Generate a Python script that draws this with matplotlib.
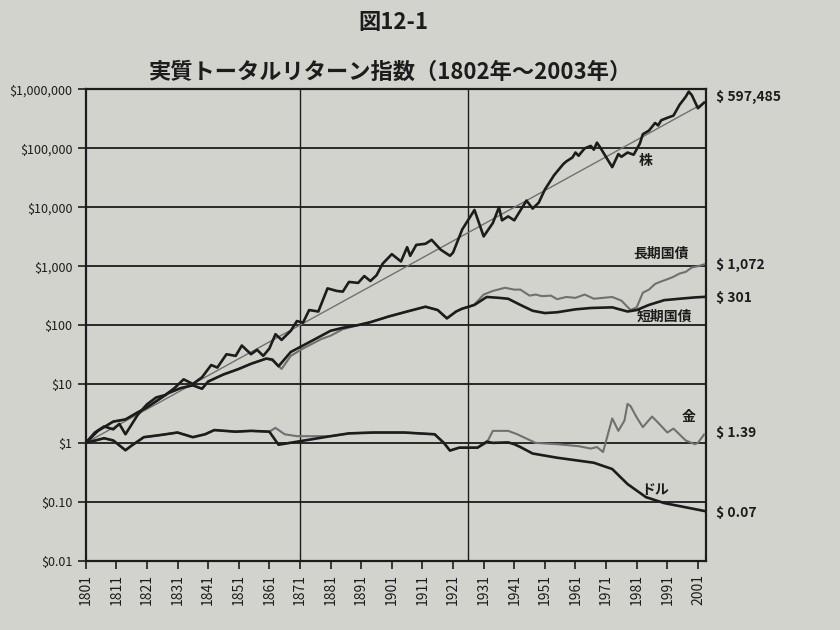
import numpy as np
import matplotlib
matplotlib.use("Agg")
import matplotlib.pyplot as plt

plt.rcParams['font.family'] = ['Noto Sans CJK JP', 'DejaVu Sans']

stock_years = [1801, 1804, 1807, 1810, 1812, 1814, 1818, 1821, 1824, 1827, 1830, 1833, 1836,
               1839, 1842, 1844, 1847, 1850, 1852, 1855, 1857, 1859, 1861, 1863, 1865, 1868,
               1870, 1872, 1874, 1877, 1880, 1883, 1885, 1887, 1890, 1892, 1894, 1896, 1898,
               1901, 1904, 1906, 1907, 1909, 1912, 1914, 1917, 1920, 1921, 1924, 1928, 1931,
               1934, 1936, 1937, 1939, 1941, 1945, 1947, 1949, 1951, 1954, 1957, 1958, 1960,
               1961, 1962, 1964, 1966, 1967, 1968, 1969, 1973, 1975, 1976, 1978, 1980, 1982,
               1983, 1985, 1987, 1988, 1989, 1991, 1993, 1995, 1997, 1998, 1999, 2001, 2003]
stock = [1, 1.5, 1.9, 1.7, 2.1, 1.4, 3.0, 4.5, 5.9, 6.5, 8.5, 12, 10,
         13, 21, 19, 32, 30, 45, 32, 38, 30, 40, 70, 56, 80,
         117, 110, 180, 170, 420, 380, 370, 540, 520, 680, 560, 700, 1100,
         1600, 1200, 2100, 1500, 2300, 2400, 2800, 1900, 1500, 1700, 4200, 9000, 3200,
         5400, 10000, 6000, 7000, 6000, 13000, 9500, 12000, 20000, 35000, 54000, 60000, 70000,
         85000, 75000, 100000, 110000, 95000, 125000, 105000, 48000, 80000, 72000, 85000, 78000, 120000,
         174000, 200000, 270000, 245000, 300000, 330000, 360000, 550000, 750000, 920000, 800000, 480000, 597485]

trend_years = [1801, 2003]
trend = [1, 590000]

bills_years = [1801, 1805, 1810, 1814, 1818, 1821, 1825, 1828, 1832, 1836, 1839, 1841, 1844,
               1846, 1851, 1855, 1860, 1862, 1864, 1868, 1872, 1878, 1881, 1885, 1890, 1894,
               1900, 1906, 1912, 1916, 1919, 1922, 1924, 1928, 1932, 1936, 1939, 1943, 1947,
               1951, 1955, 1961, 1966, 1973, 1978, 1981, 1985, 1990, 1995, 2000, 2003]
bills = [1, 1.6, 2.3, 2.5, 3.3, 4.0, 5.5, 7, 8.5, 9.5, 8.3, 11, 13,
         14.5, 18, 22, 27, 26, 20, 35, 45, 66, 80, 90, 100, 112,
         140, 170, 205, 180, 130, 170, 190, 220, 300, 290, 280, 220, 175,
         160, 165, 185, 195, 200, 170, 180, 220, 265, 280, 295, 301]

bonds_years = [1801, 1805, 1810, 1814, 1818, 1821, 1825, 1828, 1832, 1836, 1839, 1841, 1844,
               1846, 1851, 1855, 1860, 1862, 1865, 1868, 1872, 1878, 1881, 1885, 1890, 1894,
               1900, 1906, 1912, 1916, 1919, 1922, 1924, 1926, 1928, 1931, 1934, 1938, 1941,
               1943, 1946, 1948, 1950, 1953, 1955, 1958, 1961, 1964, 1967, 1970, 1973, 1976,
               1979, 1981, 1983, 1985, 1987, 1989, 1991, 1993, 1995, 1997, 1999, 2001, 2003]
bonds = [1, 1.6, 2.3, 2.5, 3.3, 4.0, 5.5, 7, 8.5, 9.5, 8.3, 11, 13,
         14.5, 18, 22, 27, 25, 18, 30, 40, 58, 66, 85, 100, 112,
         140, 170, 205, 180, 130, 170, 190, 200, 225, 330, 380, 430, 400,
         400, 316, 330, 310, 316, 275, 300, 290, 330, 280, 290, 300, 260,
         180, 200, 355, 400, 500, 550, 600, 660, 750, 800, 950, 1000, 1072]

gold_years = [1801, 1807, 1810, 1814, 1816, 1820, 1825, 1831, 1836, 1840, 1843, 1850, 1855,
              1861, 1863, 1866, 1870, 1875, 1881, 1887, 1895, 1905, 1915, 1918, 1920, 1923,
              1929, 1932, 1934, 1939, 1942, 1944, 1948, 1955, 1962, 1966, 1968, 1970, 1973,
              1975, 1977, 1978, 1979, 1981, 1983, 1986, 1988, 1991, 1993, 1997, 2000, 2001, 2003]
gold = [1, 1.2, 1.1, 0.75, 0.9, 1.25, 1.35, 1.5, 1.25, 1.4, 1.65, 1.55, 1.6,
        1.55, 1.8, 1.4, 1.3, 1.3, 1.3, 1.45, 1.5, 1.5, 1.4, 1.0, 0.74, 0.83,
        0.83, 1.0, 1.6, 1.6, 1.4, 1.25, 1.0, 0.95, 0.88, 0.8, 0.85, 0.7, 2.6,
        1.6, 2.4, 4.6, 4.2, 2.7, 1.85, 2.8, 2.2, 1.5, 1.75, 1.1, 0.95, 1.0, 1.39]

dollar_years = [1801, 1807, 1810, 1814, 1816, 1820, 1825, 1831, 1836, 1840, 1843, 1850, 1855,
                1861, 1864, 1881, 1887, 1895, 1905, 1915, 1918, 1920, 1923, 1929, 1932,
                1934, 1939, 1941, 1943, 1947, 1955, 1967, 1973, 1978, 1984, 1990, 2003]
dollar = [1, 1.2, 1.1, 0.75, 0.9, 1.25, 1.35, 1.5, 1.25, 1.4, 1.65, 1.55, 1.6,
          1.55, 0.93, 1.3, 1.45, 1.5, 1.5, 1.4, 1.0, 0.74, 0.83, 0.83, 1.05,
          1.0, 1.02, 0.95, 0.85, 0.66, 0.56, 0.46, 0.36, 0.2, 0.12, 0.095, 0.07]

ytick_vals = [0.01, 0.1, 1, 10, 100, 1000, 10000, 100000, 1000000]
ytick_labels = ['$0.01', '$0.10', '$1', '$10', '$100', '$1,000', '$10,000', '$100,000', '$1,000,000']
xtick_vals = list(range(1801, 2002, 10))

paper = '#d3d3ce'
grey = '#707070'
dark = '#1c1c1c'

fig = plt.figure(figsize=(8.4, 6.3), dpi=100, facecolor=paper)
ax = fig.add_axes([0.102, 0.11, 0.738, 0.748], facecolor=paper)

ax.set_yscale('log')
ax.set_ylim(0.01, 1000000)
ax.set_xlim(1801, 2003.5)

# grid
for v in ytick_vals:
    ax.axhline(v, color=dark, lw=1.3, zorder=1)
ax.axvline(1871, color=dark, lw=1.0, zorder=1)
ax.axvline(1926, color=dark, lw=1.0, zorder=1)

ax.plot(trend_years, trend, color=grey, lw=1.0, zorder=2)
ax.plot(gold_years, gold, color=grey, lw=1.5, zorder=3)
ax.plot(dollar_years, dollar, color=dark, lw=1.9, zorder=3)
ax.plot(bonds_years, bonds, color=grey, lw=1.5, zorder=3)
ax.plot(bills_years, bills, color=dark, lw=1.9, zorder=4)
ax.plot(stock_years, stock, color=dark, lw=1.9, zorder=5)

ax.set_yticks(ytick_vals)
ax.set_yticklabels(ytick_labels)
ax.minorticks_off()
ax.set_xticks(xtick_vals)
ax.set_xticklabels([str(y) for y in xtick_vals], rotation=90)
ax.tick_params(axis='both', direction='out', length=6, width=1.2, colors=dark)
ax.tick_params(axis='y', labelsize=9)
ax.tick_params(axis='x', labelsize=10)
for s in ax.spines.values():
    s.set_color(dark)
    s.set_linewidth(1.6)

# series labels
lab = dict(fontsize=10, color=dark, fontweight='bold')
ax.text(1984, 60000, '株', ha='center', va='center', **lab)
ax.text(1989, 1650, '長期国債', ha='center', va='center', **lab)
ax.text(1990, 140, '短期国債', ha='center', va='center', **lab)
ax.text(1998, 2.8, '金', ha='center', va='center', **lab)
ax.text(1987, 0.16, 'ドル', ha='center', va='center', **lab)

# end values
endlab = dict(fontsize=10, color=dark, fontweight='bold', ha='left', va='center', clip_on=False)
ax.text(2007, 750000, '$ 597,485', **endlab)
ax.text(2007, 1050, '$ 1,072', **endlab)
ax.text(2007, 290, '$ 301', **endlab)
ax.text(2007, 1.45, '$ 1.39', **endlab)
ax.text(2007, 0.065, '$ 0.07', **endlab)

fig.text(0.468, 0.965, '図12-1', ha='center', va='center', fontsize=16, fontweight='bold', color=dark)
fig.text(0.464, 0.885, '実質トータルリターン指数（1802年～2003年）', ha='center', va='center',
         fontsize=16, fontweight='bold', color=dark)

fig.savefig('out.png', dpi=100, facecolor=paper)
